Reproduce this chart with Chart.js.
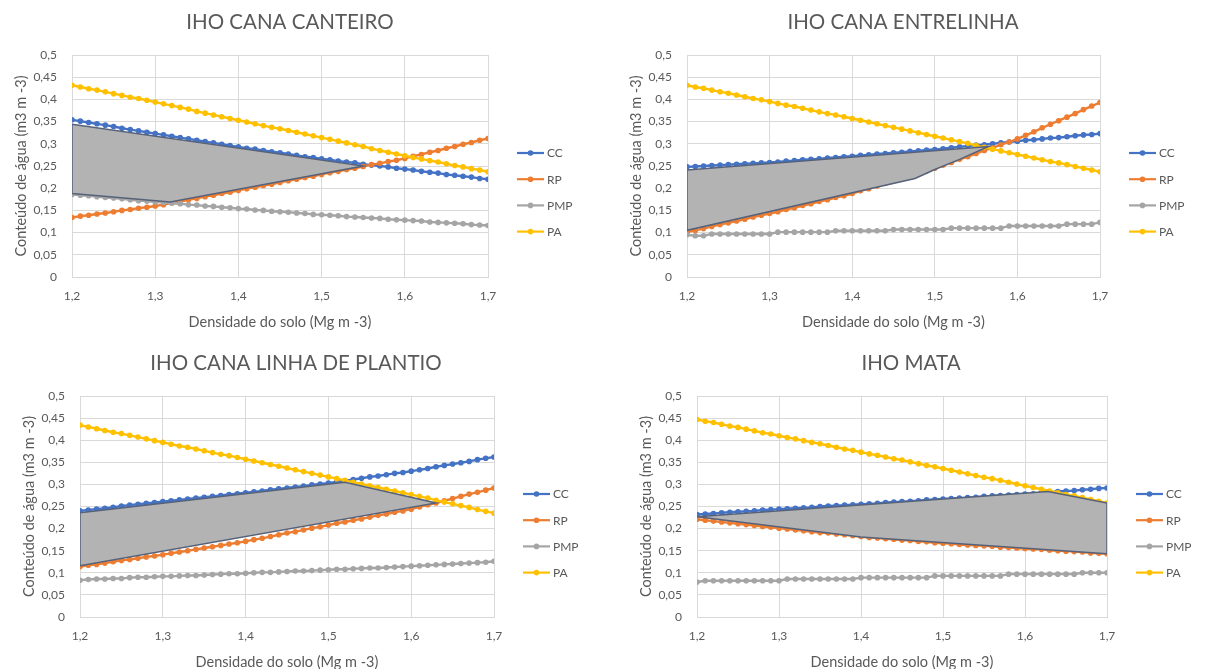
<!DOCTYPE html>
<html>
<head>
<meta charset="utf-8">
<script src="https://cdn.jsdelivr.net/npm/chart.js@4.4.1/dist/chart.umd.min.js"></script>
<style>
  body { margin: 0; background: #fff; }
  .panel { position: absolute; }
</style>
</head>
<body>
<div class="panel" style="left:0;top:0;width:600px;height:335px"><canvas id="chartCanteiro"></canvas></div>
<div class="panel" style="left:600px;top:0;width:607px;height:335px"><canvas id="chartEntrelinha"></canvas></div>
<div class="panel" style="left:0;top:335px;width:600px;height:334px"><canvas id="chartPlantio"></canvas></div>
<div class="panel" style="left:600px;top:335px;width:607px;height:334px"><canvas id="chartMata"></canvas></div>
<script>
// densidade do solo (Mg m-3)
const densidade = [1.20,1.21,1.22,1.23,1.24,1.25,1.26,1.27,1.28,1.29,1.30,
  1.31,1.32,1.33,1.34,1.35,1.36,1.37,1.38,1.39,1.40,
  1.41,1.42,1.43,1.44,1.45,1.46,1.47,1.48,1.49,1.50,
  1.51,1.52,1.53,1.54,1.55,1.56,1.57,1.58,1.59,1.60,
  1.61,1.62,1.63,1.64,1.65,1.66,1.67,1.68,1.69,1.70];

// IHO cana canteiro
const canteiroCC = [0.354,0.351,0.348,0.345,0.342,0.339,0.335,0.332,0.329,0.326,0.323,
  0.320,0.317,0.314,0.311,0.308,0.305,0.302,0.299,0.296,0.293,
  0.290,0.288,0.285,0.282,0.280,0.277,0.274,0.271,0.269,0.266,
  0.264,0.261,0.259,0.257,0.254,0.252,0.250,0.248,0.245,0.243,
  0.241,0.238,0.236,0.234,0.231,0.229,0.227,0.225,0.222,0.220];
const canteiroRP = [0.134,0.137,0.139,0.142,0.144,0.147,0.150,0.152,0.155,0.157,0.160,
  0.163,0.167,0.170,0.174,0.177,0.181,0.184,0.188,0.191,0.195,
  0.199,0.202,0.206,0.209,0.213,0.217,0.220,0.224,0.227,0.231,
  0.235,0.238,0.242,0.245,0.249,0.253,0.256,0.260,0.263,0.267,
  0.272,0.276,0.281,0.285,0.290,0.294,0.299,0.303,0.308,0.312];
const canteiroPMP = [0.186,0.184,0.183,0.181,0.179,0.178,0.176,0.174,0.172,0.171,0.169,
  0.168,0.166,0.165,0.163,0.162,0.160,0.159,0.157,0.156,0.154,
  0.153,0.151,0.150,0.148,0.147,0.146,0.144,0.143,0.141,0.140,
  0.139,0.138,0.136,0.135,0.134,0.133,0.132,0.130,0.129,0.128,
  0.127,0.126,0.124,0.123,0.122,0.121,0.120,0.118,0.117,0.116];
const canteiroPA = [0.432,0.428,0.424,0.421,0.417,0.413,0.409,0.405,0.402,0.398,0.394,
  0.390,0.386,0.382,0.378,0.373,0.369,0.365,0.361,0.357,0.353,
  0.349,0.345,0.341,0.337,0.334,0.330,0.326,0.322,0.318,0.314,
  0.310,0.306,0.302,0.298,0.294,0.289,0.285,0.281,0.277,0.273,
  0.269,0.266,0.262,0.259,0.255,0.251,0.248,0.244,0.241,0.237];
const canteiroIhoX = [1.2, 1.55, 1.318, 1.2, 1.2];
const canteiroIhoY = [0.344, 0.250, 0.169, 0.188, 0.344];

// IHO cana entrelinha
const entrelinhaCC = [0.248,0.249,0.250,0.251,0.252,0.253,0.254,0.255,0.256,0.257,0.258,
  0.259,0.261,0.262,0.264,0.265,0.266,0.268,0.269,0.271,0.272,
  0.274,0.275,0.277,0.278,0.280,0.281,0.283,0.284,0.286,0.287,
  0.289,0.291,0.293,0.295,0.297,0.298,0.300,0.302,0.304,0.306,
  0.308,0.309,0.311,0.313,0.314,0.316,0.318,0.320,0.321,0.323];
const entrelinhaRP = [0.101,0.105,0.109,0.114,0.118,0.122,0.126,0.130,0.135,0.139,0.143,
  0.147,0.152,0.156,0.161,0.165,0.170,0.174,0.179,0.183,0.188,
  0.194,0.199,0.205,0.211,0.217,0.222,0.228,0.234,0.239,0.245,
  0.252,0.258,0.265,0.271,0.278,0.285,0.291,0.298,0.304,0.311,
  0.319,0.327,0.336,0.344,0.352,0.360,0.368,0.377,0.385,0.393];
const entrelinhaPMP = [0.095,0.093,0.093,0.097,0.097,0.097,0.097,0.097,0.097,0.097,0.097,
  0.101,0.101,0.101,0.101,0.101,0.101,0.101,0.104,0.104,0.104,
  0.104,0.104,0.104,0.104,0.107,0.107,0.107,0.107,0.107,0.107,
  0.107,0.110,0.110,0.110,0.110,0.110,0.110,0.110,0.115,0.115,
  0.115,0.115,0.115,0.115,0.115,0.119,0.119,0.119,0.119,0.123];
const entrelinhaPA = [0.432,0.428,0.425,0.421,0.417,0.414,0.410,0.406,0.402,0.399,0.395,
  0.391,0.387,0.384,0.380,0.376,0.372,0.368,0.365,0.361,0.357,
  0.353,0.349,0.345,0.341,0.337,0.333,0.329,0.325,0.321,0.317,
  0.313,0.309,0.305,0.301,0.296,0.292,0.288,0.284,0.280,0.276,
  0.272,0.268,0.264,0.260,0.257,0.253,0.249,0.245,0.241,0.237];
const entrelinhaIhoX = [1.2, 1.565, 1.53, 1.5, 1.476, 1.2, 1.2];
const entrelinhaIhoY = [0.241, 0.294, 0.265, 0.242, 0.222, 0.105, 0.241];

// IHO cana linha de plantio
const plantioCC = [0.240,0.242,0.244,0.246,0.248,0.251,0.253,0.255,0.257,0.259,0.261,
  0.263,0.265,0.267,0.269,0.271,0.273,0.275,0.277,0.279,0.281,
  0.283,0.285,0.288,0.290,0.292,0.294,0.296,0.299,0.301,0.303,
  0.306,0.308,0.311,0.314,0.317,0.319,0.322,0.325,0.327,0.330,
  0.333,0.336,0.340,0.343,0.346,0.349,0.352,0.356,0.359,0.362];
const plantioRP = [0.114,0.117,0.119,0.122,0.125,0.128,0.130,0.133,0.136,0.138,0.141,
  0.144,0.147,0.150,0.153,0.156,0.159,0.162,0.165,0.168,0.171,
  0.175,0.178,0.182,0.186,0.190,0.193,0.197,0.201,0.204,0.208,
  0.212,0.215,0.219,0.222,0.226,0.230,0.233,0.237,0.240,0.244,
  0.249,0.254,0.258,0.263,0.268,0.273,0.278,0.282,0.287,0.292];
const plantioPMP = [0.083,0.085,0.086,0.086,0.087,0.087,0.089,0.090,0.090,0.091,0.092,
  0.092,0.093,0.094,0.094,0.095,0.096,0.097,0.098,0.098,0.099,
  0.100,0.101,0.101,0.102,0.103,0.104,0.104,0.105,0.106,0.107,
  0.108,0.108,0.109,0.110,0.111,0.111,0.112,0.113,0.114,0.115,
  0.116,0.117,0.118,0.119,0.120,0.121,0.122,0.123,0.124,0.126];
const plantioPA = [0.434,0.430,0.426,0.422,0.418,0.415,0.411,0.407,0.403,0.399,0.395,
  0.391,0.387,0.384,0.380,0.376,0.372,0.368,0.365,0.361,0.357,
  0.353,0.349,0.345,0.341,0.337,0.333,0.329,0.325,0.321,0.317,
  0.313,0.309,0.305,0.301,0.297,0.293,0.289,0.285,0.281,0.277,
  0.273,0.269,0.264,0.260,0.256,0.252,0.248,0.243,0.239,0.235];
const plantioIhoX = [1.2, 1.52, 1.63, 1.2, 1.2];
const plantioIhoY = [0.236, 0.305, 0.258, 0.116, 0.236];

// IHO mata
const mataCC = [0.232,0.233,0.234,0.236,0.237,0.238,0.239,0.240,0.242,0.243,0.244,
  0.245,0.246,0.247,0.248,0.250,0.251,0.252,0.253,0.254,0.255,
  0.256,0.257,0.259,0.260,0.261,0.262,0.263,0.265,0.266,0.267,
  0.268,0.269,0.270,0.271,0.273,0.274,0.275,0.276,0.277,0.278,
  0.279,0.281,0.282,0.284,0.285,0.286,0.288,0.289,0.291,0.292];
const mataRP = [0.221,0.219,0.217,0.215,0.213,0.211,0.209,0.207,0.205,0.203,0.201,
  0.199,0.197,0.195,0.193,0.191,0.190,0.188,0.186,0.184,0.182,
  0.180,0.179,0.177,0.176,0.174,0.173,0.171,0.170,0.168,0.167,
  0.166,0.164,0.163,0.162,0.161,0.160,0.158,0.157,0.156,0.155,
  0.154,0.153,0.151,0.150,0.149,0.148,0.147,0.145,0.144,0.143];
const mataPMP = [0.079,0.082,0.082,0.082,0.082,0.082,0.082,0.082,0.082,0.082,0.082,
  0.086,0.086,0.086,0.086,0.086,0.086,0.086,0.086,0.086,0.089,
  0.089,0.089,0.089,0.089,0.089,0.089,0.089,0.089,0.093,0.093,
  0.093,0.093,0.093,0.093,0.093,0.093,0.093,0.097,0.097,0.097,
  0.097,0.097,0.097,0.097,0.097,0.097,0.100,0.100,0.100,0.100];
const mataPA = [0.447,0.443,0.440,0.436,0.432,0.429,0.425,0.421,0.417,0.414,0.410,
  0.406,0.403,0.399,0.395,0.392,0.388,0.384,0.380,0.377,0.373,
  0.369,0.366,0.362,0.358,0.355,0.351,0.347,0.343,0.340,0.336,
  0.332,0.328,0.324,0.320,0.316,0.313,0.309,0.305,0.301,0.297,
  0.293,0.289,0.285,0.281,0.277,0.274,0.270,0.266,0.262,0.258];
const mataIhoX = [1.2, 1.628, 1.7, 1.7, 1.4, 1.2];
const mataIhoY = [0.227, 0.284, 0.258, 0.143, 0.181, 0.227];

const seriesNames = ['CC', 'RP', 'PMP', 'PA'];
const seriesColors = ['#4472c4', '#ed7d31', '#a5a5a5', '#ffc000'];
const textColor = '#595959';
const gridColor = '#d9d9d9';

Chart.defaults.font.family = 'Lato, "Open Sans", sans-serif';
Chart.defaults.color = textColor;

function toPoints(xs, ys) {
  return xs.map((x, i) => ({ x: x, y: ys[i] }));
}

function comma(v, digits) {
  return String(+v.toFixed(digits)).replace('.', ',');
}

// legend drawn the excel way: line with a marker, label on the right
const excelLegend = {
  id: 'excelLegend',
  afterDraw(chart, args, opts) {
    const ctx = chart.ctx;
    const x0 = chart.chartArea.right + opts.dx;
    let y = chart.chartArea.top + opts.dy;
    ctx.save();
    chart.data.datasets.forEach(ds => {
      if (ds.isIho) return;
      ctx.strokeStyle = ds.borderColor;
      ctx.lineWidth = 2.2;
      ctx.beginPath();
      ctx.moveTo(x0, y);
      ctx.lineTo(x0 + 27, y);
      ctx.stroke();
      ctx.fillStyle = ds.borderColor;
      ctx.beginPath();
      ctx.arc(x0 + 13.5, y, 2.8, 0, Math.PI * 2);
      ctx.fill();
      ctx.fillStyle = textColor;
      ctx.font = '12px Lato, sans-serif';
      ctx.textBaseline = 'middle';
      ctx.fillText(ds.label, x0 + 30, y + 0.5);
      y += opts.step;
    });
    ctx.restore();
  }
};

function makeChart(canvasId, title, series, ihoX, ihoY, frame) {
  const datasets = series.map((values, i) => ({
    label: seriesNames[i],
    data: toPoints(densidade, values),
    borderColor: seriesColors[i],
    backgroundColor: seriesColors[i],
    borderWidth: 2.4,
    pointRadius: 2.8,
    pointBorderWidth: 0,
    pointBackgroundColor: seriesColors[i],
    fill: false,
    tension: 0,
    order: 4 - i
  }));
  datasets.push({
    label: 'IHO',
    isIho: true,
    data: toPoints(ihoX, ihoY),
    borderColor: '#56627a',
    backgroundColor: '#b3b3b3',
    borderWidth: 1.5,
    pointRadius: 0,
    fill: 'shape',
    tension: 0,
    order: 0
  });

  // title is centred between the paddings, so the paddings carry its centre
  const padL = Math.max(0, 2 * frame.titleX - frame.w);
  const padR = Math.max(0, frame.w - 2 * frame.titleX);

  return new Chart(document.getElementById(canvasId), {
    type: 'line',
    data: { datasets: datasets },
    plugins: [excelLegend],
    options: {
      responsive: true,
      maintainAspectRatio: false,
      animation: false,
      layout: { padding: { left: padL, top: 0, bottom: 0, right: padR } },
      plugins: {
        legend: { display: false },
        tooltip: { enabled: false },
        title: {
          display: true,
          text: title,
          color: textColor,
          font: { size: 20.5, weight: 'normal', lineHeight: 1.2 },
          padding: { top: frame.titleY - 12.3, bottom: frame.T - frame.titleY - 12.3 }
        },
        excelLegend: { dx: 29, dy: 98, step: 26.2 }
      },
      scales: {
        x: {
          type: 'linear',
          min: 1.2,
          max: 1.7,
          afterFit: s => { s.height = frame.h - frame.B; },
          grid: { color: gridColor, drawTicks: false },
          border: { color: gridColor },
          ticks: {
            stepSize: 0.1,
            padding: 12,
            font: { size: 12 },
            callback: v => comma(v, 1)
          },
          title: {
            display: true,
            text: 'Densidade do solo (Mg m -3)',
            font: { size: 14.5 },
            padding: { top: 0, bottom: frame.h - frame.xTitleY - 8.7 }
          }
        },
        y: {
          min: 0,
          max: 0.5,
          afterFit: s => { s.width = frame.L - padL; },
          grid: { color: gridColor, drawTicks: false },
          border: { display: false },
          ticks: {
            stepSize: 0.05,
            padding: 15,
            font: { size: 12 },
            callback: v => comma(v, 2)
          },
          title: {
            display: true,
            text: 'Conteúdo de água (m3 m -3)',
            font: { size: 14.5 },
            padding: { top: frame.L - 51 - 8.7 - padL, bottom: 0 }
          }
        },
        // empty right-hand box that keeps room for the legend
        side: {
          type: 'linear',
          position: 'right',
          afterFit: s => { s.width = frame.w - frame.R - padR; },
          grid: { display: false },
          border: { display: false },
          ticks: { display: false }
        }
      }
    }
  });
}

makeChart('chartCanteiro', 'IHO CANA CANTEIRO',
  [canteiroCC, canteiroRP, canteiroPMP, canteiroPA], canteiroIhoX, canteiroIhoY,
  { w: 600, h: 335, L: 72, R: 488, T: 55, B: 277, titleX: 290, titleY: 22, xTitleY: 322 });

makeChart('chartEntrelinha', 'IHO CANA ENTRELINHA',
  [entrelinhaCC, entrelinhaRP, entrelinhaPMP, entrelinhaPA], entrelinhaIhoX, entrelinhaIhoY,
  { w: 607, h: 335, L: 87, R: 500, T: 55, B: 277, titleX: 303, titleY: 22, xTitleY: 322 });

makeChart('chartPlantio', 'IHO CANA LINHA DE PLANTIO',
  [plantioCC, plantioRP, plantioPMP, plantioPA], plantioIhoX, plantioIhoY,
  { w: 600, h: 334, L: 80, R: 494, T: 61, B: 282, titleX: 296, titleY: 28, xTitleY: 327 });

makeChart('chartMata', 'IHO MATA',
  [mataCC, mataRP, mataPMP, mataPA], mataIhoX, mataIhoY,
  { w: 607, h: 334, L: 97, R: 507, T: 61, B: 282, titleX: 311, titleY: 28, xTitleY: 327 });
</script>
</body>
</html>
